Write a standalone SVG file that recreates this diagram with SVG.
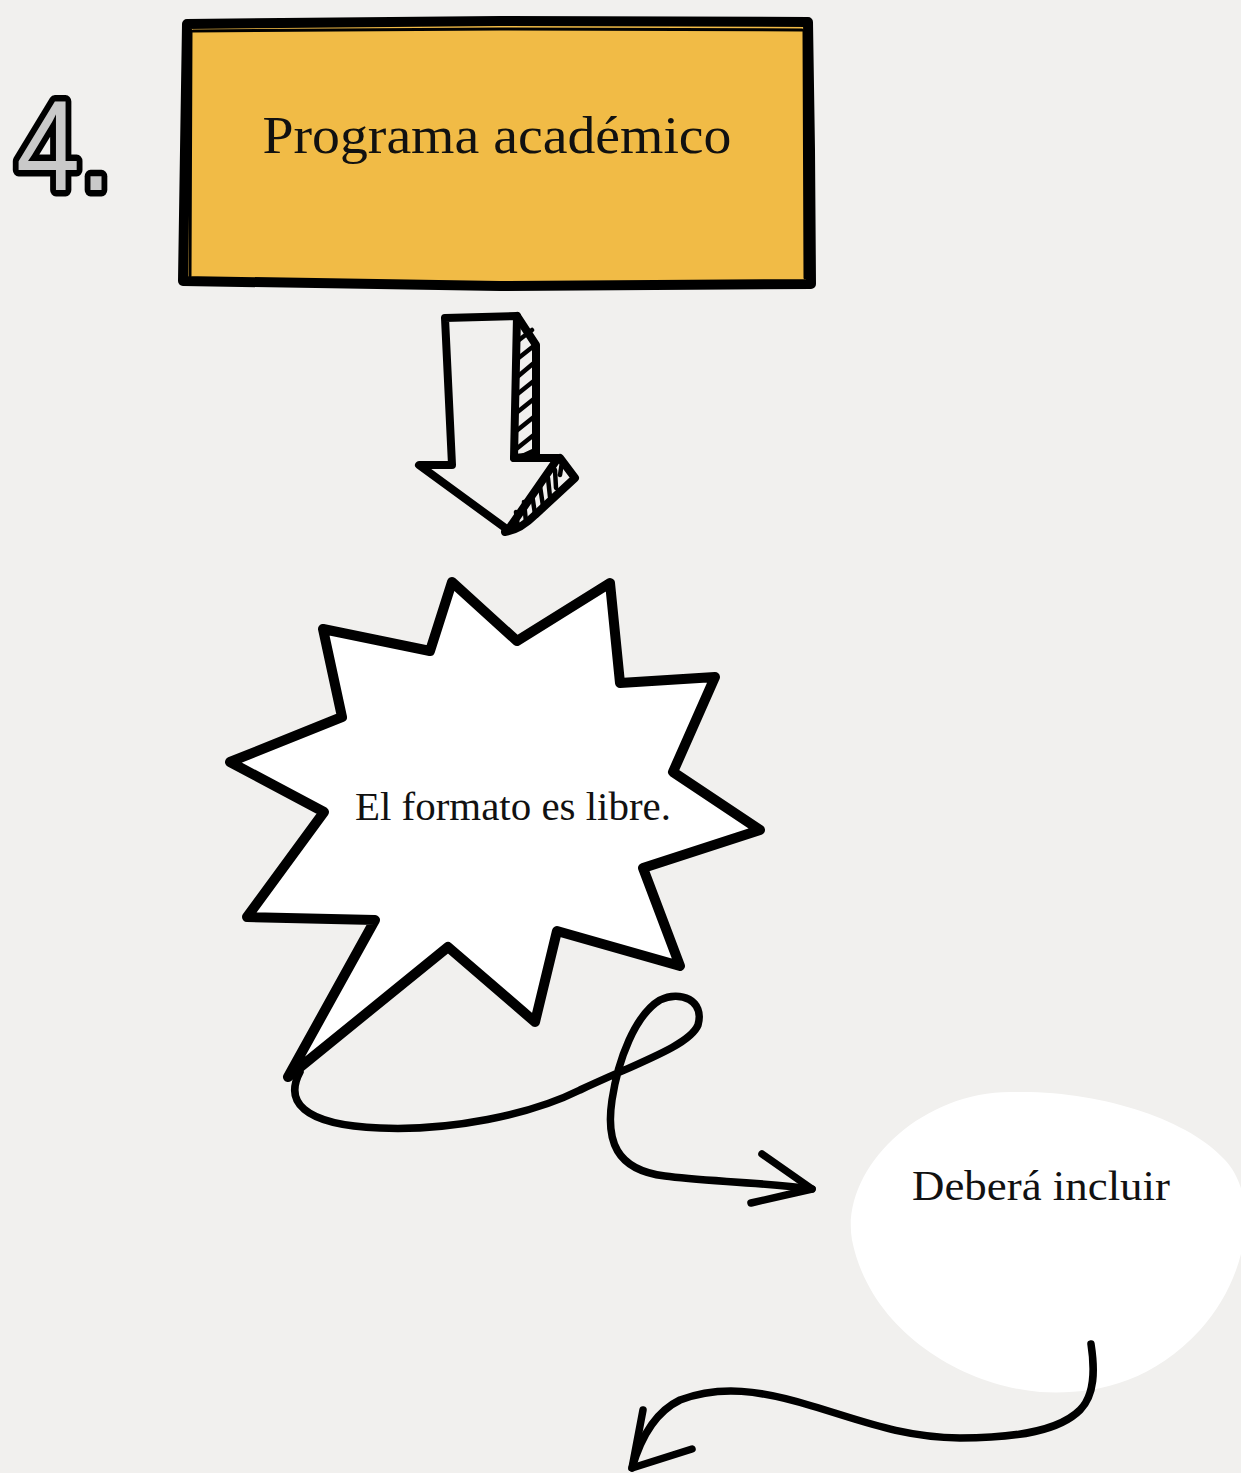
<svg xmlns="http://www.w3.org/2000/svg" width="1241" height="1473" viewBox="0 0 1241 1473">
<style>
.ink{fill:none;stroke:#000;stroke-linecap:round;stroke-linejoin:round}
.lbl{font-family:"Liberation Serif","Times New Roman",serif;fill:#111}
</style>
<rect width="1241" height="1473" fill="#f1f0ee"/>
<g id="number">
<text x="16" y="190" font-family="Liberation Sans, Arial, sans-serif" font-size="128" fill="#c9c9c9" stroke="#000" stroke-width="13" paint-order="stroke" stroke-linejoin="round" textLength="96" lengthAdjust="spacingAndGlyphs">4.</text>
</g>
<g id="title">
<path d="M187 24 L500 21 L808 22 L810 150 L811 284 L500 286 L183 281 L185 150 Z" fill="#f1bb46"/>
<path class="ink" stroke-width="10" d="M187 24 L500 21 L808 22 L810 150 L811 284 L500 286 L183 281 L185 150 Z"/>
<path class="ink" stroke-width="3" d="M193 31 L500 29 L802 30 M804 31 L805 278 M191 31 L190 276"/>
<text class="lbl" x="497" y="153" font-size="52" text-anchor="middle" textLength="469" lengthAdjust="spacingAndGlyphs">Programa académico</text>
</g>
<g id="down-arrow">
<path d="M445 318 L517 316 L514 458 L558 458 L508 530 L419 465 L452 465 Z" fill="#f1f0ee"/>
<path d="M517 316 L536 345 L536 456 L514 458 Z M560 458 L575 478 L535 515 Q520 530 505 532 Z" fill="#f1f0ee"/>
<path class="ink" stroke-width="8" d="M445 318 L517 316 L514 458 L558 458 L508 530 L419 465 L452 465 Z"/>
<path class="ink" stroke-width="8" d="M517 316 L536 345 L536 456 L514 458"/>
<path class="ink" stroke-width="8" d="M560 458 L575 478 L535 515 Q520 530 505 532"/>
<path class="ink" stroke-width="4.5" d="M519 340 L532 330 M516 360 L535 345 M516 378 L535 362 M515 396 L535 380 M515 414 L535 398 M515 432 L535 416 M515 450 L535 434 M518 458 L535 450 M562 462 L560 475 M555 470 L556 488 M548 478 L550 497 M540 486 L543 506 M532 494 L535 514 M524 502 L526 522 M516 512 L518 528"/>
</g>
<g id="starburst">
<path d="M452 582 L517 641 L610 583 L620 683 L715 677 L673 772 L760 830 L643 868 L680 966 L557 931 L535 1022 L448 947 L288 1077 L375 920 L247 917 L324 812 L230 762 L342 717 L323 629 L430 651 Z" fill="#fff"/>
<path class="ink" stroke-width="10" d="M452 582 L517 641 L610 583 L620 683 L715 677 L673 772 L760 830 L643 868 L680 966 L557 931 L535 1022 L448 947 L288 1077 L375 920 L247 917 L324 812 L230 762 L342 717 L323 629 L430 651 Z"/>
<text class="lbl" x="513" y="820" font-size="40" text-anchor="middle" textLength="316" lengthAdjust="spacingAndGlyphs">El formato es libre.</text>
</g>
<g id="blob">
<path d="M1014 1092 C1100 1090 1190 1120 1225 1160 C1262 1200 1246 1280 1200 1330 C1150 1385 1090 1395 1040 1392 C960 1385 870 1330 852 1240 C840 1170 920 1090 1014 1092 Z" fill="#fff"/>
<text class="lbl" x="1041" y="1200" font-size="42" text-anchor="middle" textLength="258" lengthAdjust="spacingAndGlyphs">Deberá incluir</text>
</g>
<g id="connectors">
<path class="ink" stroke-width="7.5" d="M300 1072 C285 1100 300 1125 380 1128 C450 1131 530 1115 580 1090 C640 1062 690 1045 698 1025 C705 1000 680 990 660 1000 C635 1015 618 1060 612 1100 C606 1140 615 1170 665 1176 C700 1181 760 1182 812 1189"/>
<path class="ink" stroke-width="7.5" d="M762 1154 L812 1189 L751 1203"/>
<path class="ink" stroke-width="7.5" d="M1091 1344 C1095 1370 1095 1395 1080 1410 C1060 1430 1020 1438 960 1438 C900 1437 860 1420 812 1406 C760 1390 720 1385 680 1400 C655 1412 640 1440 632 1468"/>
<path class="ink" stroke-width="7.5" d="M643 1410 L632 1468 L692 1449"/>
</g>
</svg>
